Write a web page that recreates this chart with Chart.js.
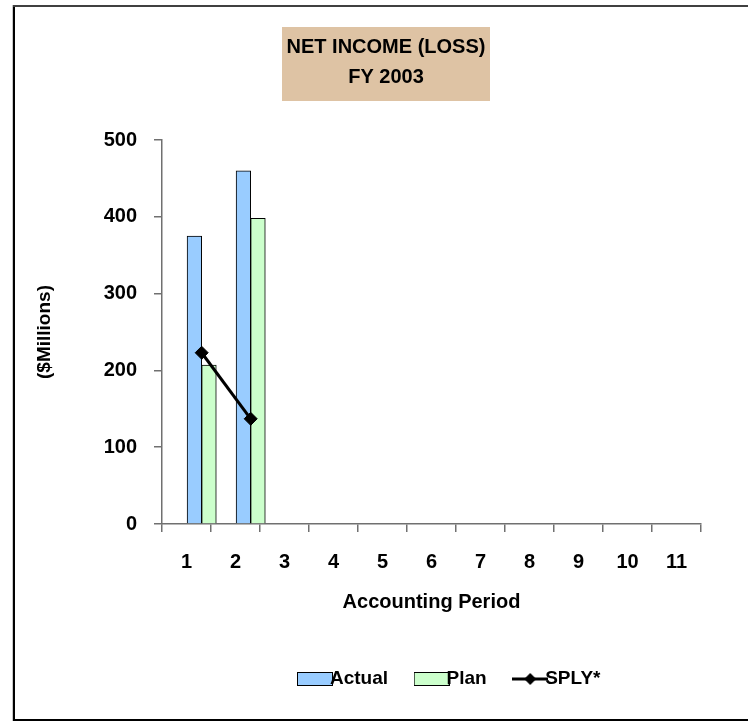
<!DOCTYPE html>
<html>
<head>
<meta charset="utf-8">
<title>Net Income (Loss) FY 2003</title>
<script src="https://cdn.jsdelivr.net/npm/chart.js@4/dist/chart.umd.min.js"></script>
<style>
  html, body { margin: 0; padding: 0; background: #ffffff; }
  #wrap { position: relative; width: 748px; height: 722px; }
</style>
</head>
<body>
<div id="wrap"><canvas id="chart" width="748" height="722"></canvas></div>
<script>
// ---- data ----
const periods = ['1', '2', '3', '4', '5', '6', '7', '8', '9', '10', '11'];
const reportedPeriods = [1, 2];
const actual = [375, 460];
const plan = [207, 398];
const sply = [223, 137];
const yTicks = [0, 100, 200, 300, 400, 500];
const titleLines = ['NET INCOME (LOSS)', 'FY 2003'];
const seriesNames = ['Actual', 'Plan', 'SPLY*'];

// ---- styling ----
const FONT = "'Liberation Sans', Arial, Helvetica, sans-serif";
const AXIS_COLOR = '#707070';
const ACTUAL_FILL = '#99CCFF';
const PLAN_FILL = '#CCFFCC';
const groupShift = 0.31;   // bar groups sit slightly right of each period's centre

const toPoints = vals => vals.map((v, i) => ({ x: reportedPeriods[i], y: v }));

// legend swatches
function barSwatch(fill) {
  const c = document.createElement('canvas');
  c.width = 36; c.height = 14;
  const g = c.getContext('2d');
  g.fillStyle = fill; g.fillRect(0, 0, 36, 14);
  g.strokeStyle = '#000'; g.lineWidth = 1; g.strokeRect(0.5, 0.5, 35, 13);
  return c;
}
function lineSwatch() {
  const c = document.createElement('canvas');
  c.width = 36; c.height = 14;
  const g = c.getContext('2d');
  g.strokeStyle = '#000'; g.lineWidth = 3;
  g.beginPath(); g.moveTo(0, 7); g.lineTo(36, 7); g.stroke();
  g.fillStyle = '#000';
  g.beginPath(); g.moveTo(18, 1); g.lineTo(24, 7); g.lineTo(18, 13); g.lineTo(12, 7); g.closePath(); g.fill();
  return c;
}
const swatches = [barSwatch(ACTUAL_FILL), barSwatch(PLAN_FILL), lineSwatch()];

// frame around the whole figure
const framePlugin = {
  id: 'frame',
  beforeDraw(chart) {
    const ctx = chart.ctx;
    ctx.save();
    ctx.strokeStyle = '#c8c8c8'; ctx.lineWidth = 1;
    ctx.beginPath(); ctx.moveTo(12.5, 5); ctx.lineTo(12.5, 721); ctx.stroke();
    ctx.strokeStyle = '#000'; ctx.lineWidth = 2;
    ctx.beginPath(); ctx.moveTo(14, 5); ctx.lineTo(14, 721); ctx.stroke();
    ctx.beginPath(); ctx.moveTo(13, 720); ctx.lineTo(748, 720); ctx.stroke();
    ctx.strokeStyle = '#404040';
    ctx.beginPath(); ctx.moveTo(13, 6); ctx.lineTo(748, 6); ctx.stroke();
    ctx.restore();
  }
};

// shaded title panel
const titlePanel = {
  id: 'titlePanel',
  beforeDraw(chart, args, o) {
    const ctx = chart.ctx;
    ctx.save();
    ctx.fillStyle = o.background;
    ctx.fillRect(o.x, o.y, o.width, o.height);
    ctx.fillStyle = o.color;
    ctx.font = 'bold ' + o.size + 'px ' + FONT;
    ctx.textAlign = 'center';
    ctx.textBaseline = 'middle';
    o.lines.forEach((t, i) => ctx.fillText(t, o.x + o.width / 2, o.y + o.firstLine + i * o.lineGap));
    ctx.restore();
  }
};

// place the legend row under the plot
const legendPlacement = {
  id: 'legendPlacement',
  afterLayout(chart, args, o) {
    if (chart.legend) {
      chart.legend.left = o.left;
      chart.legend.right = chart.width;
    }
  }
};

new Chart(document.getElementById('chart'), {
  type: 'bar',
  data: {
    datasets: [
      {
        label: seriesNames[0],
        data: toPoints(actual),
        xAxisID: 'xd',
        backgroundColor: ACTUAL_FILL,
        borderColor: '#000',
        borderWidth: 1,
        barThickness: 14.6,
        order: 2
      },
      {
        label: seriesNames[1],
        data: toPoints(plan),
        xAxisID: 'xd',
        backgroundColor: PLAN_FILL,
        borderColor: '#000',
        borderWidth: 1,
        barThickness: 14.6,
        order: 2
      },
      {
        type: 'line',
        label: seriesNames[2],
        data: toPoints(sply),
        xAxisID: 'xd',
        borderColor: '#000',
        backgroundColor: '#000',
        borderWidth: 3,
        pointStyle: 'rectRot',
        pointRadius: 6.5,
        pointBorderWidth: 1,
        pointBackgroundColor: '#000',
        pointBorderColor: '#000',
        tension: 0,
        fill: false,
        order: 1
      }
    ]
  },
  options: {
    responsive: false,
    animation: false,
    devicePixelRatio: 1,
    layout: { padding: { top: 140, left: 0, right: 47, bottom: 23.5 } },
    scales: {
      x: {
        type: 'category',
        labels: periods,
        offset: true,
        grid: { offset: true, drawOnChartArea: false, drawTicks: true, tickLength: 8, color: AXIS_COLOR, lineWidth: 1.5 },
        border: { display: true, color: AXIS_COLOR, width: 1.5 },
        ticks: { color: '#000', font: { family: FONT, size: 20, weight: 'bold' }, padding: 18, autoSkip: false, maxRotation: 0 },
        title: { display: true, text: 'Accounting Period', color: '#000', font: { family: FONT, size: 20, weight: 'bold' }, padding: { top: 0, bottom: 17 } },
        afterFit(scale) { scale.height = 107.5; }
      },
      xd: {
        type: 'linear',
        display: false,
        offset: false,
        min: 0.5 - groupShift,
        max: periods.length + 0.5 - groupShift,
        afterBuildTicks(axis) { axis.ticks = periods.map((p, i) => ({ value: i + 1 })); }
      },
      y: {
        min: 0,
        max: 500,
        afterBuildTicks(axis) { axis.ticks = yTicks.map(v => ({ value: v })); },
        grid: { drawOnChartArea: false, drawTicks: true, tickLength: 8, color: AXIS_COLOR, lineWidth: 1.5 },
        border: { display: true, color: AXIS_COLOR, width: 1.5 },
        ticks: { color: '#000', font: { family: FONT, size: 20, weight: 'bold' }, padding: 17 },
        title: { display: true, text: '($Millions)', color: '#000', font: { family: FONT, size: 19, weight: 'bold' }, padding: { top: 33.6, bottom: 0 } },
        afterFit(scale) { scale.width = 162; }
      }
    },
    plugins: {
      title: { display: false },
      tooltip: { enabled: false },
      legend: {
        display: true,
        position: 'bottom',
        align: 'start',
        labels: {
          usePointStyle: true,
          pointStyleWidth: 11,
          padding: 38,
          color: '#000',
          font: { family: FONT, size: 19, weight: 'bold' },
          generateLabels(chart) {
            return chart.data.datasets.map((ds, i) => ({
              text: ds.label,
              pointStyle: swatches[i],
              datasetIndex: i,
              hidden: !chart.isDatasetVisible(i),
              fontColor: '#000',
              lineWidth: 0,
              strokeStyle: 'transparent',
              fillStyle: 'transparent'
            }));
          }
        }
      },
      titlePanel: {
        x: 282, y: 27, width: 208, height: 74,
        firstLine: 20, lineGap: 30,
        size: 20,
        background: '#DEC3A4',
        color: '#000',
        lines: titleLines
      },
      legendPlacement: { left: 271.5 }
    }
  },
  plugins: [framePlugin, titlePanel, legendPlacement]
});
</script>
</body>
</html>
